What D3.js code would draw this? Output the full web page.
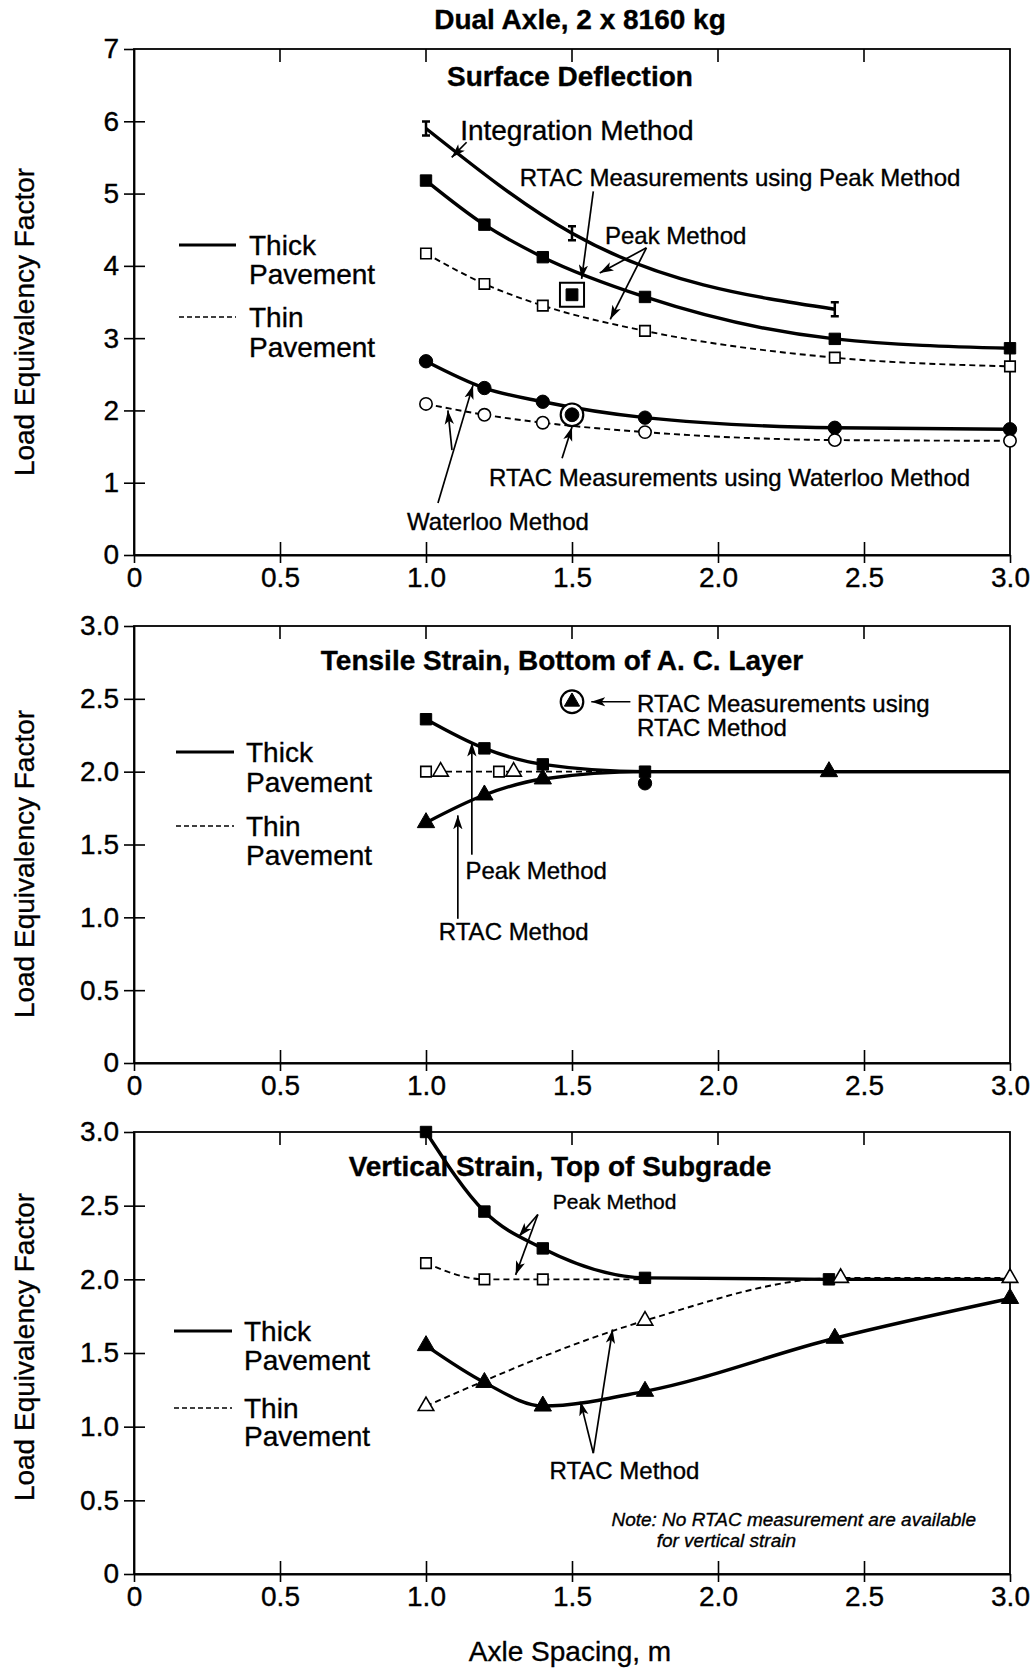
<!DOCTYPE html>
<html>
<head>
<meta charset="utf-8">
<script src="https://cdn.jsdelivr.net/npm/d3@7"></script>
<style>
  body { margin: 0; background: #fff; }
  svg text { font-family: "Liberation Sans", Arial, sans-serif; fill: #000; stroke: #000; stroke-width: 0.35px; }
</style>
</head>
<body>
<div id="chart"></div>
<script>
// axis ticks
const xTicks = [0, 0.5, 1.0, 1.5, 2.0, 2.5, 3.0];
const xTickLabels = ["0", "0.5", "1.0", "1.5", "2.0", "2.5", "3.0"];
const yTicksDefl = [0, 1, 2, 3, 4, 5, 6, 7];
const yTickLabelsDefl = ["0", "1", "2", "3", "4", "5", "6", "7"];
const yTicksStrain = [0, 0.5, 1.0, 1.5, 2.0, 2.5, 3.0];
const yTickLabelsStrain = ["0", "0.5", "1.0", "1.5", "2.0", "2.5", "3.0"];

// surface deflection
const deflSpacing = [1.0, 1.2, 1.4, 1.75, 2.4, 3.0];
const deflPeakThick = [5.18, 4.57, 4.12, 3.57, 2.99, 2.86];
const deflPeakThin = [4.17, 3.75, 3.45, 3.10, 2.73, 2.61];
const deflWaterlooThick = [2.68, 2.31, 2.12, 1.90, 1.76, 1.74];
const deflWaterlooThin = [2.09, 1.94, 1.83, 1.70, 1.59, 1.58];
const deflIntegSpacing = [1.0, 1.5, 2.4];
const deflIntegThick = [5.9, 4.45, 3.4];
const deflRtacPeak = [[1.5, 3.6]];
const deflRtacWaterloo = [[1.5, 1.94]];

// tensile strain
const tenPeakSpacing = [1.0, 1.2, 1.4, 1.75, 3.0];
const tenPeakThick = [2.36, 2.16, 2.05, 2.0, 2.0];
const tenRtacSpacing = [1.0, 1.2, 1.4, 1.75, 2.38, 3.0];
const tenRtacThick = [1.65, 1.84, 1.95, 2.0, 2.0, 2.0];
const tenThinSpacing = [1.0, 1.75];
const tenThinLine = [2.0, 2.0];
const tenPeakThinPts = [[1.0, 2.0], [1.25, 2.0]];
const tenRtacThinPts = [[1.05, 2.0], [1.3, 2.0]];
const tenExtraPt = [[1.75, 1.92]];
const tenRtacMeas = [[1.5, 2.48]];

// vertical strain
const vertPeakSpacing = [1.0, 1.2, 1.4, 1.75, 2.38, 3.0];
const vertPeakThick = [3.0, 2.46, 2.21, 2.01, 2.0, 2.0];
const vertPeakThinSpacing = [1.0, 1.2, 1.4, 1.75];
const vertPeakThin = [2.11, 2.0, 2.0, 2.0];
const vertRtacSpacing = [1.0, 1.2, 1.4, 1.75, 2.4, 3.0];
const vertRtacThick = [1.55, 1.30, 1.14, 1.24, 1.60, 1.87];
const vertRtacThinSpacing = [1.0, 1.75, 2.42, 3.0];
const vertRtacThin = [1.14, 1.72, 2.01, 2.01];

const W = 1034, H = 1670;
const svg = d3.select("#chart").append("svg")
    .attr("width", W).attr("height", H)
    .attr("viewBox", [0, 0, W, H]);

svg.append("defs").append("marker")
    .attr("id", "arrow")
    .attr("viewBox", "0 0 12 8")
    .attr("refX", 12).attr("refY", 4)
    .attr("markerWidth", 14).attr("markerHeight", 10)
    .attr("markerUnits", "userSpaceOnUse")
    .attr("orient", "auto")
  .append("path")
    .attr("d", "M0,0 L12,4 L0,8 L3,4 z")
    .attr("fill", "#000");

const x = d3.scaleLinear().domain([0, 3]).range([134, 1010]);
const zip = (xs, ys) => xs.map((v, i) => [v, ys[i]]);

const panels = [
  {
    top: 49, bottom: 555, ymax: 7,
    yTicks: yTicksDefl, yLabels: yTickLabelsDefl,
    title: "Surface Deflection", titleX: 570, titleY: 76, yTitleY: 322,
    legend: {solid: 245, thick1: 245, thick2: 274, dash: 317, thin1: 317, thin2: 347, x0: 179, x1: 236, tx: 249},
    lines: [
      {pts: zip(deflIntegSpacing, deflIntegThick), thick: true},
      {pts: zip(deflSpacing, deflPeakThick), thick: true},
      {pts: zip(deflSpacing, deflPeakThin), thick: false},
      {pts: zip(deflSpacing, deflWaterlooThick), thick: true},
      {pts: zip(deflSpacing, deflWaterlooThin), thick: false}
    ],
    marks: [
      {pts: zip(deflIntegSpacing, deflIntegThick), type: "ibeam"},
      {pts: zip(deflSpacing, deflPeakThick), type: "sqFill"},
      {pts: zip(deflSpacing, deflPeakThin), type: "sqOpen"},
      {pts: zip(deflSpacing, deflWaterlooThick), type: "cirFill"},
      {pts: zip(deflSpacing, deflWaterlooThin), type: "cirOpen"},
      {pts: deflRtacPeak, type: "rtacSq"},
      {pts: deflRtacWaterloo, type: "rtacCir"}
    ],
    notes: [
      {text: "Integration Method", x: 1.117, y: 5.88, size: 28},
      {text: "RTAC Measurements using Peak Method", x: 1.321, y: 5.22, size: 24},
      {text: "Peak Method", x: 1.613, y: 4.42, size: 24},
      {text: "RTAC Measurements using Waterloo Method", x: 1.216, y: 1.065, size: 24},
      {text: "Waterloo Method", x: 0.935, y: 0.456, size: 24}
    ],
    arrows: [
      [1.139, 5.71, 1.088, 5.5],
      [1.573, 5.03, 1.533, 3.82],
      [1.755, 4.25, 1.595, 3.9],
      [1.755, 4.25, 1.631, 3.26],
      [1.466, 1.34, 1.5, 1.77],
      [1.041, 0.72, 1.161, 2.35],
      [1.089, 1.45, 1.075, 2.0]
    ]
  },
  {
    top: 626, bottom: 1063, ymax: 3,
    yTicks: yTicksStrain, yLabels: yTickLabelsStrain,
    title: "Tensile Strain, Bottom of A. C. Layer", titleX: 562, titleY: 660, yTitleY: 864,
    legend: {solid: 752, thick1: 752, thick2: 782, dash: 826, thin1: 826, thin2: 855, x0: 176, x1: 234, tx: 246},
    lines: [
      {pts: zip(tenPeakSpacing, tenPeakThick), thick: true},
      {pts: zip(tenRtacSpacing, tenRtacThick), thick: true},
      {pts: zip(tenThinSpacing, tenThinLine), thick: false}
    ],
    marks: [
      {pts: zip(tenPeakSpacing, tenPeakThick).slice(0, 4), type: "sqFill"},
      {pts: zip(tenRtacSpacing, tenRtacThick).filter(d => d[0] !== 1.75 && d[0] !== 3.0), type: "triFill"},
      {pts: tenPeakThinPts, type: "sqOpen"},
      {pts: tenRtacThinPts, type: "triOpen"},
      {pts: tenExtraPt, type: "cirFill"},
      {pts: tenRtacMeas, type: "rtacTri"}
    ],
    notes: [
      {text: "RTAC Measurements using", x: 1.723, y: 2.47, size: 24},
      {text: "RTAC Method", x: 1.723, y: 2.30, size: 24},
      {text: "Peak Method", x: 1.135, y: 1.32, size: 24},
      {text: "RTAC Method", x: 1.044, y: 0.90, size: 24}
    ],
    arrows: [
      [1.70, 2.48, 1.566, 2.48],
      [1.157, 1.43, 1.157, 2.20],
      [1.109, 0.99, 1.109, 1.70]
    ]
  },
  {
    top: 1132, bottom: 1574, ymax: 3,
    yTicks: yTicksStrain, yLabels: yTickLabelsStrain,
    title: "Vertical Strain, Top of Subgrade", titleX: 560, titleY: 1166, yTitleY: 1347,
    legend: {solid: 1331, thick1: 1331, thick2: 1360, dash: 1408, thin1: 1408, thin2: 1436, x0: 174, x1: 232, tx: 244},
    lines: [
      {pts: zip(vertPeakSpacing, vertPeakThick), thick: true},
      {pts: zip(vertPeakThinSpacing, vertPeakThin), thick: false},
      {pts: zip(vertRtacSpacing, vertRtacThick), thick: true},
      {pts: zip(vertRtacThinSpacing, vertRtacThin), thick: false}
    ],
    marks: [
      {pts: zip(vertPeakSpacing, vertPeakThick).slice(0, 5), type: "sqFill"},
      {pts: zip(vertPeakThinSpacing, vertPeakThin).slice(0, 3), type: "sqOpen"},
      {pts: zip(vertRtacSpacing, vertRtacThick), type: "triFill"},
      {pts: zip(vertRtacThinSpacing, vertRtacThin), type: "triOpen"}
    ],
    notes: [
      {text: "Peak Method", x: 1.434, y: 2.53, size: 21},
      {text: "RTAC Method", x: 1.423, y: 0.70, size: 24},
      {text: "Note: No RTAC measurement are available", x: 1.635, y: 0.37, size: 19, italic: true},
      {text: "for vertical strain", x: 1.79, y: 0.23, size: 19, italic: true}
    ],
    arrows: [
      [1.383, 2.44, 1.318, 2.29],
      [1.383, 2.44, 1.307, 2.03],
      [1.573, 0.82, 1.639, 1.66],
      [1.573, 0.82, 1.529, 1.17]
    ]
  }
];

// top title
svg.append("text")
    .attr("x", 580).attr("y", 19).attr("dy", "0.35em")
    .attr("text-anchor", "middle")
    .attr("font-size", 28).attr("font-weight", "bold")
    .text("Dual Axle, 2 x 8160 kg");

function drawMarker(g, type, cx, cy) {
  const sym = (shape, size, filled, sw) => g.append("path")
      .attr("d", d3.symbol(shape, size)())
      .attr("transform", `translate(${cx},${cy})`)
      .attr("fill", filled ? "#000" : "#fff")
      .attr("stroke", "#000")
      .attr("stroke-width", sw || 1.5);
  if (type === "sqFill") sym(d3.symbolSquare, 130, true, 1);
  else if (type === "sqOpen") sym(d3.symbolSquare, 110, false, 1.6);
  else if (type === "cirFill") sym(d3.symbolCircle, 140, true, 1);
  else if (type === "cirOpen") sym(d3.symbolCircle, 120, false, 1.6);
  else if (type === "triFill") sym(d3.symbolTriangle, 130, true, 1);
  else if (type === "triOpen") sym(d3.symbolTriangle, 105, false, 1.6);
  else if (type === "rtacSq") {
    sym(d3.symbolSquare, 580, false, 2);
    sym(d3.symbolSquare, 140, true, 1);
  } else if (type === "rtacCir") {
    sym(d3.symbolCircle, 400, false, 2.2);
    sym(d3.symbolCircle, 150, true, 1);
  } else if (type === "rtacTri") {
    sym(d3.symbolCircle, 400, false, 2.2);
    sym(d3.symbolTriangle, 100, true, 1);
  } else if (type === "ibeam") {
    const p = d3.path();
    p.moveTo(cx, cy - 7); p.lineTo(cx, cy + 7);
    p.moveTo(cx - 4, cy - 7); p.lineTo(cx + 4, cy - 7);
    p.moveTo(cx - 4, cy + 7); p.lineTo(cx + 4, cy + 7);
    g.append("path").attr("d", p.toString())
        .attr("stroke", "#000").attr("stroke-width", 2.5).attr("fill", "none");
  }
}

panels.forEach(pn => {
  const y = d3.scaleLinear().domain([0, pn.ymax]).range([pn.bottom, pn.top]);
  const g = svg.append("g");

  // frame
  g.append("rect")
      .attr("x", x(0)).attr("y", pn.top)
      .attr("width", x(3) - x(0)).attr("height", pn.bottom - pn.top)
      .attr("fill", "none").attr("stroke", "#000").attr("stroke-width", 1.8);

  // left axis, ticks crossing the line
  g.append("g")
      .attr("transform", `translate(${x(0)},0)`)
      .call(d3.axisLeft(y).tickValues(pn.yTicks)
          .tickFormat((d, i) => pn.yLabels[i])
          .tickSizeInner(10).tickSizeOuter(0).tickPadding(5))
      .call(a => a.select(".domain").attr("stroke-width", 1.8))
      .call(a => a.selectAll(".tick line").attr("stroke-width", 1.6))
      .call(a => a.selectAll(".tick").filter(d => d > 0 && d < pn.ymax)
          .append("line").attr("x2", 11).attr("stroke", "#000").attr("stroke-width", 1.6))
      .call(a => a.selectAll(".tick text").attr("font-size", 28)
          .attr("font-family", "Liberation Sans, Arial, sans-serif"));

  // bottom axis
  g.append("g")
      .attr("transform", `translate(0,${pn.bottom})`)
      .call(d3.axisBottom(x).tickValues(xTicks)
          .tickFormat((d, i) => xTickLabels[i])
          .tickSizeInner(8).tickSizeOuter(0).tickPadding(4))
      .call(a => a.select(".domain").attr("stroke-width", 1.8))
      .call(a => a.selectAll(".tick line").attr("stroke-width", 1.6))
      .call(a => a.selectAll(".tick").filter(d => d > 0 && d < 3)
          .append("line").attr("y2", -13).attr("stroke", "#000").attr("stroke-width", 1.6))
      .call(a => a.selectAll(".tick text").attr("font-size", 28)
          .attr("font-family", "Liberation Sans, Arial, sans-serif"));

  // top ticks pointing inward
  g.append("g").selectAll("line")
      .data(xTicks.filter(d => d > 0 && d < 3))
      .join("line")
      .attr("x1", d => x(d)).attr("x2", d => x(d))
      .attr("y1", pn.top).attr("y2", pn.top + 13)
      .attr("stroke", "#000").attr("stroke-width", 1.6);

  // y title
  g.append("text")
      .attr("transform", `translate(24,${pn.yTitleY}) rotate(-90)`)
      .attr("dy", "0.35em")
      .attr("text-anchor", "middle").attr("font-size", 28)
      .text("Load Equivalency Factor");

  // panel title
  g.append("text")
      .attr("x", pn.titleX).attr("y", pn.titleY).attr("dy", "0.35em")
      .attr("text-anchor", "middle")
      .attr("font-size", 28).attr("font-weight", "bold")
      .text(pn.title);

  // legend
  const L = pn.legend;
  g.append("line").attr("x1", L.x0).attr("x2", L.x1).attr("y1", L.solid).attr("y2", L.solid)
      .attr("stroke", "#000").attr("stroke-width", 3);
  g.append("line").attr("x1", L.x0).attr("x2", L.x1).attr("y1", L.dash).attr("y2", L.dash)
      .attr("stroke", "#000").attr("stroke-width", 1.3).attr("stroke-dasharray", "5,3");
  [["Thick", L.thick1], ["Pavement", L.thick2], ["Thin", L.thin1], ["Pavement", L.thin2]]
    .forEach(([t, ty]) => g.append("text")
      .attr("x", L.tx).attr("y", ty).attr("dy", "0.35em")
      .attr("font-size", 28).text(t));

  // curves
  const line = d3.line().x(d => x(d[0])).y(d => y(d[1])).curve(d3.curveMonotoneX);
  g.append("g").selectAll("path")
      .data(pn.lines)
      .join("path")
      .attr("d", d => line(d.pts))
      .attr("fill", "none")
      .attr("stroke", "#000")
      .attr("stroke-width", d => d.thick ? 3.4 : 1.9)
      .attr("stroke-dasharray", d => d.thick ? null : "6,4");

  // markers
  const mg = g.append("g");
  pn.marks.forEach(m => m.pts.forEach(p => drawMarker(mg, m.type, x(p[0]), y(p[1]))));

  // annotations
  g.append("g").selectAll("line")
      .data(pn.arrows)
      .join("line")
      .attr("x1", d => x(d[0])).attr("y1", d => y(d[1]))
      .attr("x2", d => x(d[2])).attr("y2", d => y(d[3]))
      .attr("stroke", "#000").attr("stroke-width", 1.7)
      .attr("marker-end", "url(#arrow)");

  g.append("g").selectAll("text")
      .data(pn.notes)
      .join("text")
      .attr("x", d => x(d.x)).attr("y", d => y(d.y)).attr("dy", "0.35em")
      .attr("font-size", d => d.size)
      .attr("font-style", d => d.italic ? "italic" : null)
      .text(d => d.text);
});

// x title
svg.append("text")
    .attr("x", 570).attr("y", 1651).attr("dy", "0.35em")
    .attr("text-anchor", "middle").attr("font-size", 28)
    .text("Axle Spacing, m");
</script>
</body>
</html>
